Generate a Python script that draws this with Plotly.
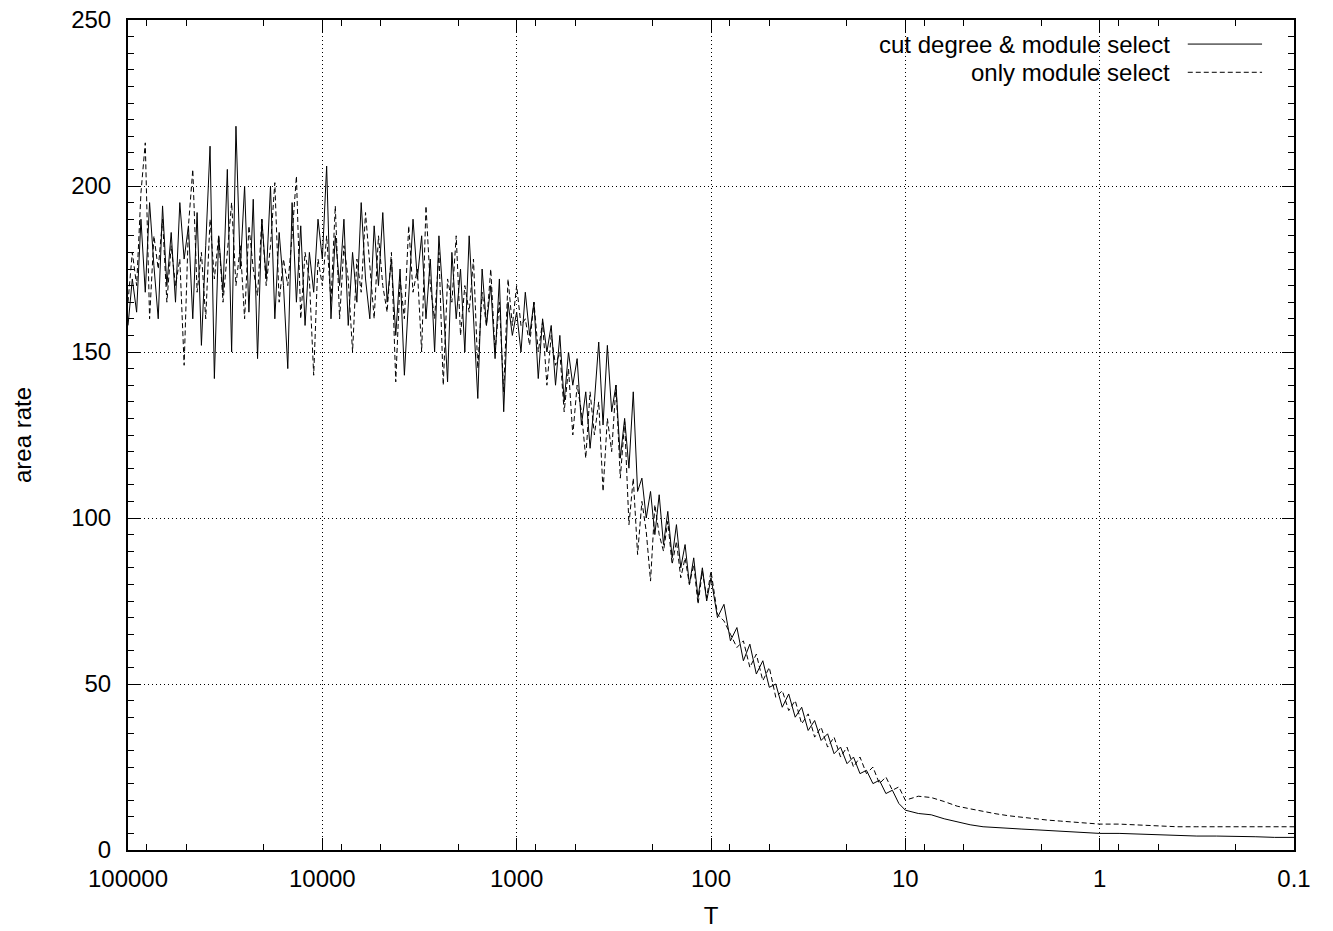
import numpy as np
import plotly.graph_objects as go

# Temperature schedule (x values), decade by decade, from 100000 down to 0.1
T = np.concatenate([
    np.geomspace(1e5, 1e4, 45, endpoint=False),
    np.geomspace(1e4, 1e3, 45, endpoint=False),
    np.geomspace(1e3, 1e2, 45, endpoint=False),
    np.geomspace(1e2, 1e1, 30, endpoint=False),
    np.geomspace(1e1, 1e0, 15, endpoint=False),
    np.geomspace(1e0, 1e-1, 11),
])

cut_degree = [
    # 100000 -> 10000
    158, 172, 162, 190, 168, 195, 176, 160, 194, 170, 186, 165, 195, 178, 188,
    160, 192, 152, 182, 212, 142, 185, 168, 205, 150, 218, 175, 200, 162, 196,
    148, 190, 172, 200, 160, 186, 170, 145, 195, 165, 188, 158, 180, 168, 190,
    # 10000 -> 1000
    178, 206, 160, 185, 170, 190, 158, 180, 165, 195, 172, 160, 188, 170, 192,
    165, 178, 155, 175, 143, 168, 190, 172, 185, 160, 178, 150, 185, 165, 141,
    180, 160, 175, 150, 185, 162, 136, 175, 158, 170, 148, 172, 132, 165, 155,
    # 1000 -> 100
    162, 150, 168, 155, 165, 142, 160, 150, 158, 140, 155, 135, 150, 140, 148,
    128, 138, 121, 135, 153, 128, 152, 132, 140, 118, 130, 115, 138, 108, 112,
    100, 108, 95, 107, 92, 102, 88, 98, 85, 92, 80, 88, 76, 85, 75,
    # 100 -> 10
    82, 70, 74, 63, 67, 57, 62, 53, 57, 49, 50, 43, 47, 40, 43,
    36, 39, 33, 35, 29, 31, 26, 28, 23, 24, 20, 21, 17, 18, 14,
    # 10 -> 1
    12, 11.0, 10.6, 9.4, 8.4, 7.6, 7.0, 6.7, 6.5, 6.3, 6.1, 5.9, 5.7, 5.5, 5.3,
    # 1 -> 0.1
    5.0, 5.0, 4.8, 4.5, 4.3, 4.2, 4.2, 4.2, 4.0, 3.8, 3.8,
]

only_module = [
    # 100000 -> 10000
    165, 180, 170, 198, 213, 160, 185, 175, 190, 165, 182, 170, 178, 146, 188,
    205, 168, 180, 160, 190, 172, 185, 165, 180, 195, 170, 182, 160, 188, 175,
    167, 190, 170, 182, 201, 165, 178, 170, 185, 203, 160, 180, 172, 143, 178,
    # 10000 -> 1000
    170, 185, 165, 194, 160, 182, 172, 150, 178, 168, 192, 175, 160, 185, 170,
    162, 180, 141, 172, 160, 188, 168, 175, 150, 194, 170, 160, 180, 140, 172,
    165, 185, 155, 170, 162, 178, 145, 168, 158, 175, 150, 165, 138, 172, 158,
    # 1000 -> 100
    170, 158, 160, 152, 165, 150, 159, 140, 155, 146, 150, 132, 145, 125, 140,
    132, 118, 138, 125, 135, 108, 130, 120, 140, 112, 129, 98, 112, 89, 105,
    96, 81, 104, 95, 90, 99, 86, 93, 82, 88, 80, 86, 74, 84, 76,
    # 100 -> 10
    84, 71, 69, 65, 61, 63, 55, 59, 51, 55, 46, 48, 42, 45, 38,
    41, 34, 37, 31, 34, 28, 31, 25, 28, 23, 25, 20, 22, 18, 19,
    # 10 -> 1
    15, 16.2, 15.8, 14.6, 13.2, 12.4, 11.6, 10.9, 10.3, 9.8, 9.4, 9.0, 8.7, 8.4, 8.1,
    # 1 -> 0.1
    7.8, 7.8, 7.5, 7.2, 7.0, 7.0, 7.0, 7.0, 7.0, 7.0, 7.0,
]

series_names = ["cut degree & module select", "only module select"]
x_tick_vals = [1e5, 1e4, 1e3, 1e2, 1e1, 1e0, 1e-1]
x_tick_text = ["100000", "10000", "1000", "100", "10", "1", "0.1"]
x_minor_vals = [m * 10.0 ** k for k in range(-1, 5) for m in (2, 5, 8)]
y_tick_vals = [0, 50, 100, 150, 200, 250]

FONT = "Liberation Sans, Arial, Helvetica, sans-serif"

fig = go.Figure()
fig.add_trace(go.Scatter(x=T, y=cut_degree, mode="lines", name=series_names[0],
                         line=dict(color="black", width=1), showlegend=False))
fig.add_trace(go.Scatter(x=T, y=only_module, mode="lines", name=series_names[1],
                         line=dict(color="black", width=1, dash="5px,3px"),
                         showlegend=False))

# gnuplot-style key (text left of sample line), drawn in paper coordinates
fig.add_shape(type="rect", xref="paper", yref="paper", x0=0.612, x1=0.993,
              y0=0.919, y1=0.999, fillcolor="white", line=dict(width=0),
              layer="between")
key_rows = [(0.971, "solid"), (0.937, "5px,3px")]
for (yy, dash), name in zip(key_rows, series_names):
    fig.add_annotation(xref="paper", yref="paper", x=0.895, y=yy, text=name,
                       showarrow=False, xanchor="right", yanchor="middle",
                       font=dict(family=FONT, size=24, color="black"))
    fig.add_shape(type="line", xref="paper", yref="paper", x0=0.9089, x1=0.9726,
                  y0=yy, y1=yy, line=dict(color="black", width=1, dash=dash))

fig.update_xaxes(
    type="log", range=[5, -1], tickmode="array", tickvals=x_tick_vals,
    ticktext=x_tick_text, ticks="inside", ticklen=12, tickwidth=1,
    tickcolor="black", showline=True, linecolor="black", linewidth=2,
    mirror="ticks", showgrid=True, gridcolor="black", gridwidth=1,
    griddash="1px,3px", zeroline=False,
    minor=dict(tickmode="array", tickvals=x_minor_vals, ticks="inside",
               ticklen=6, tickcolor="black", showgrid=False),
    tickfont=dict(family=FONT, size=24, color="black"), ticklabelstandoff=6,
    title=dict(text="T", font=dict(family=FONT, size=24, color="black"),
               standoff=16),
)
fig.update_yaxes(
    range=[0, 250], tickmode="array", tickvals=y_tick_vals, ticks="inside",
    ticklen=12, tickwidth=1, tickcolor="black", showline=True,
    linecolor="black", linewidth=2, mirror="ticks", showgrid=True,
    gridcolor="black", gridwidth=1, griddash="1px,3px", zeroline=False,
    minor=dict(dtick=5, ticks="inside", ticklen=6, tickcolor="black",
               showgrid=False),
    tickfont=dict(family=FONT, size=24, color="black"), ticklabelstandoff=10,
    title=dict(text="area rate", font=dict(family=FONT, size=24, color="black"),
               standoff=33),
)
fig.update_layout(
    width=1333, height=931, margin=dict(l=128, r=39, t=20, b=81, autoexpand=False),
    plot_bgcolor="white", paper_bgcolor="white", showlegend=False,
    font=dict(family=FONT, size=24, color="black"),
)
fig.write_html("out.html")
